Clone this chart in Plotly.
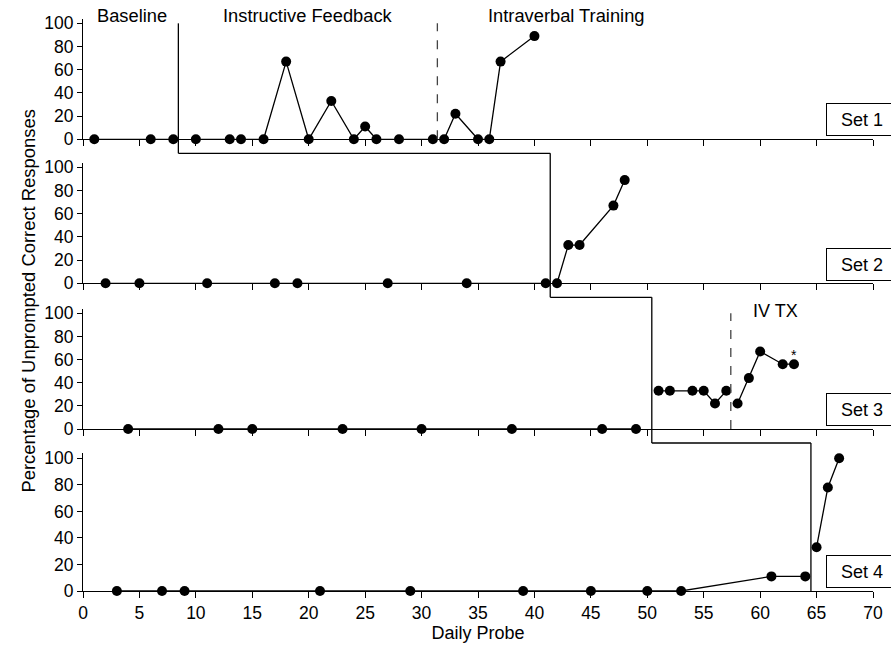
import plotly.graph_objects as go

# ---------------- data ----------------
set1_days = [1, 6, 8, 10, 13, 14, 16, 18, 20, 22, 24, 25, 26, 28, 31, 32, 33, 35, 36, 37, 40]
set1_vals = [0, 0, 0, 0, 0, 0, 0, 67, 0, 33, 0, 11, 0, 0, 0, 0, 22, 0, 0, 67, 89]

set2_days = [2, 5, 11, 17, 19, 27, 34, 41, 42, 43, 44, 47, 48]
set2_vals = [0, 0, 0, 0, 0, 0, 0, 0, 0, 33, 33, 67, 89]

set3_days = [4, 12, 15, 23, 30, 38, 46, 49, 51, 52, 54, 55, 56, 57, 58, 59, 60, 62, 63]
set3_vals = [0, 0, 0, 0, 0, 0, 0, 0, 33, 33, 33, 33, 22, 33, 22, 44, 67, 56, 56]

set4_days = [3, 7, 9, 21, 29, 39, 45, 50, 53, 61, 64, 65, 66, 67]
set4_vals = [0, 0, 0, 0, 0, 0, 0, 0, 0, 11, 11, 33, 78, 100]

set_labels = ["Set 1", "Set 2", "Set 3", "Set 4"]
phase_change_x = [8.45, 41.4, 50.4, 64.5]          # baseline -> instructive feedback
iv_change_x = [31.4, None, 57.4, None]             # instructive feedback -> intraverbal training
phase_labels = ["Baseline", "Instructive Feedback", "Intraverbal Training"]
phase_label_x = [4.3, 19.9, 42.8]
iv_label = "IV TX"
iv_label_x = 61.4
asterisk_x = 63
asterisk_y = 64

x_ticks = list(range(0, 71, 5))
y_ticks = [0, 20, 40, 60, 80, 100]

all_days = [set1_days, set2_days, set3_days, set4_days]
all_vals = [set1_vals, set2_vals, set3_vals, set4_vals]

# ---------------- layout geometry ----------------
W, H = 891, 648
ML, MR, MT, MB = 83, 18, 18, 57
PH = H - MT - MB
# pixel positions (from top) of y=0 and y=104 (axis top) for each panel
panel_px = [(139.3, 18.7), (283.3, 162.7), (429.0, 308.7), (591.0, 453.0)]
BOTTOM_PX = H - MB
domains = [[(BOTTOM_PX - b) / PH, (BOTTOM_PX - t) / PH] for b, t in panel_px]
domains[3][0] = 0.0
YMAX = 104
gap = 14 / PH

FONT = "Arial, Liberation Sans, sans-serif"


def broken(days, vals, breaks):
    xs, ys = [], []
    for i, (d, v) in enumerate(zip(days, vals)):
        if i > 0:
            for b in breaks:
                if b is not None and days[i - 1] < b < d:
                    xs.append(None)
                    ys.append(None)
        xs.append(d)
        ys.append(v)
    return xs, ys


def y_paper(panel, val):
    d0, d1 = domains[panel]
    return d0 + (val / YMAX) * (d1 - d0)


fig = go.Figure()

for i in range(4):
    xs, ys = broken(all_days[i], all_vals[i], [phase_change_x[i], iv_change_x[i]])
    fig.add_trace(go.Scatter(
        x=xs, y=ys, mode="lines+markers",
        xaxis="x" if i == 0 else f"x{i+1}",
        yaxis="y" if i == 0 else f"y{i+1}",
        line=dict(color="black", width=1.3),
        marker=dict(color="black", size=10),
        cliponaxis=False, showlegend=False, connectgaps=False,
    ))

axis_common = dict(showline=True, linecolor="black", linewidth=1, ticks="outside",
                   tickcolor="black", showgrid=False, zeroline=False, automargin=False,
                   tickfont=dict(family=FONT, size=17.5, color="black"))

layout = dict(
    width=W, height=H, paper_bgcolor="white", plot_bgcolor="white",
    margin=dict(l=ML, r=MR, t=MT, b=MB, autoexpand=False),
    font=dict(family=FONT, size=17, color="black"),
    showlegend=False,
)

for i in range(4):
    xn = "xaxis" if i == 0 else f"xaxis{i+1}"
    yn = "yaxis" if i == 0 else f"yaxis{i+1}"
    ya = "y" if i == 0 else f"y{i+1}"
    xa = "x" if i == 0 else f"x{i+1}"
    layout[xn] = dict(axis_common, range=[0, 70], tickvals=x_ticks, ticklen=6,
                      anchor=ya, domain=[0, 1],
                      showticklabels=(i == 3),
                      title=dict(text="Daily Probe" if i == 3 else "",
                                 font=dict(family=FONT, size=18), standoff=3))
    if i > 0:
        layout[xn]["matches"] = "x"
    layout[yn] = dict(axis_common, range=[0, YMAX], tickvals=y_ticks, ticklen=5,
                      anchor=xa, domain=domains[i])

fig.update_layout(**layout)

shapes = []
# phase change staircase line
for i in range(4):
    top = y_paper(0, 100) if i == 0 else domains[i - 1][0] - gap
    bottom = domains[i][0] - gap if i < 3 else domains[3][0]
    shapes.append(dict(type="line", xref="x", yref="paper",
                       x0=phase_change_x[i], x1=phase_change_x[i], y0=top, y1=bottom,
                       line=dict(color="black", width=1.3)))
    if i < 3:
        shapes.append(dict(type="line", xref="x", yref="paper",
                           x0=phase_change_x[i], x1=phase_change_x[i + 1], y0=bottom, y1=bottom,
                           line=dict(color="black", width=1.3)))
# dashed intraverbal lines
for i in range(4):
    if iv_change_x[i] is not None:
        shapes.append(dict(type="line", xref="x", yref="paper",
                           x0=iv_change_x[i], x1=iv_change_x[i],
                           y0=y_paper(i, 0), y1=y_paper(i, 100),
                           line=dict(color="#444444", width=1.3, dash="dash")))
fig.update_layout(shapes=shapes)

annotations = []
set_label_y = [17, 16, 17, 15]
for i in range(4):
    annotations.append(dict(
        text=set_labels[i], x=69.05, y=set_label_y[i],
        xref="x", yref="y" if i == 0 else f"y{i+1}",
        showarrow=False, bordercolor="black", borderwidth=1, borderpad=5,
        bgcolor="white", width=60, height=21,
        font=dict(family=FONT, size=18, color="black")))
for txt, xv in zip(phase_labels, phase_label_x):
    annotations.append(dict(text=txt, x=xv, y=(BOTTOM_PX - 15.5) / PH, xref="x", yref="paper",
                            yanchor="middle", showarrow=False, borderpad=0,
                            font=dict(family=FONT, size=18.3, color="black")))
annotations.append(dict(text=iv_label, x=iv_label_x, y=102, xref="x", yref="y3",
                        showarrow=False, font=dict(family=FONT, size=18, color="black")))
annotations.append(dict(text="*", x=asterisk_x, y=asterisk_y, xref="x", yref="y3",
                        showarrow=False, font=dict(family=FONT, size=14, color="black")))
annotations.append(dict(text="Percentage of Unprompted Correct Responses",
                        x=(16 - ML) / (W - ML - MR), y=(BOTTOM_PX - 301) / PH,
                        xref="paper", yref="paper", textangle=-90, showarrow=False,
                        font=dict(family=FONT, size=18.4, color="black")))
fig.update_layout(annotations=annotations)

# remove the browser's default 8px body margin so the figure sits at the page corner
fig.write_html("out.html", config={"displayModeBar": False},
               post_script="document.body.style.margin='0';")
